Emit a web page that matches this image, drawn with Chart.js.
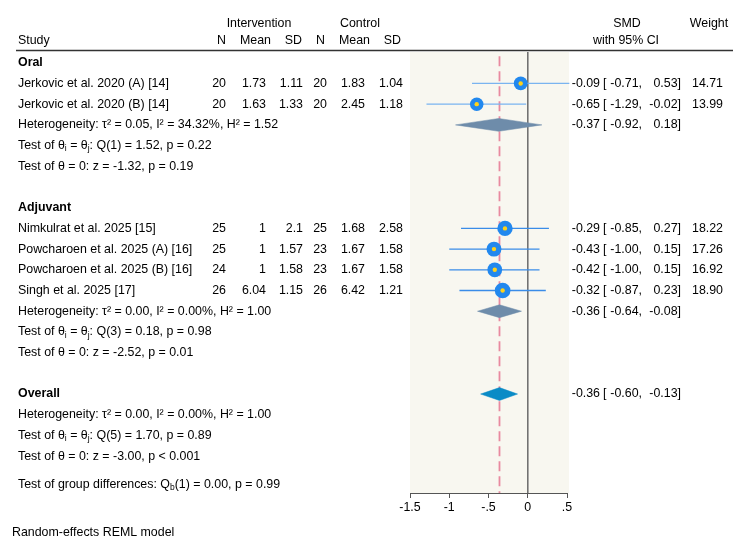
<!DOCTYPE html>
<html><head><meta charset="utf-8">
<script src="https://cdn.jsdelivr.net/npm/chart.js@4.4.1/dist/chart.umd.min.js"></script>
<style>html,body{margin:0;padding:0;background:#fff}#wrap{width:750px;height:548px;position:relative}</style>
</head><body><div id="wrap"><canvas id="c" width="750" height="548"></canvas></div>
<script>
// ---------- data ----------
const studies = ["Jerkovic et al. 2020 (A) [14]", "Jerkovic et al. 2020 (B) [14]", "Nimkulrat et al. 2025 [15]",
  "Powcharoen et al. 2025 (A) [16]", "Powcharoen et al. 2025 (B) [16]", "Singh et al. 2025 [17]"];
const studyGroup = [0, 0, 1, 1, 1, 1];
const nT = [20, 20, 25, 25, 24, 26];
const meanT = [1.73, 1.63, 1, 1, 1, 6.04];
const sdT = [1.11, 1.33, 2.1, 1.57, 1.58, 1.15];
const nC = [20, 20, 25, 23, 23, 26];
const meanC = [1.83, 2.45, 1.68, 1.67, 1.67, 6.42];
const sdC = [1.04, 1.18, 2.58, 1.58, 1.58, 1.21];
const smd = [-0.09, -0.65, -0.29, -0.43, -0.42, -0.32];
const ciLo = [-0.71, -1.29, -0.85, -1.00, -1.00, -0.87];
const ciHi = [0.53, -0.02, 0.27, 0.15, 0.15, 0.23];
const weight = [14.71, 13.99, 18.22, 17.26, 16.92, 18.90];

const groups = ["Oral", "Adjuvant", "Overall"];
const sumEst = [-0.37, -0.36, -0.36];
const sumLo = [-0.92, -0.64, -0.60];
const sumHi = [0.18, -0.08, -0.13];
const tau2 = [0.05, 0.00, 0.00];
const i2 = [34.32, 0.00, 0.00];
const h2 = [1.52, 1.00, 1.00];
const qDf = [1, 3, 5];
const qStat = [1.52, 0.18, 1.70];
const qP = ["= 0.22", "= 0.98", "= 0.89"];
const zStat = [-1.32, -2.52, -3.00];
const zP = ["= 0.19", "= 0.01", "< 0.001"];
const groupDiffQ = 0.00, groupDiffDf = 1, groupDiffP = 0.99;

const xTicks = [-1.5, -1, -0.5, 0, 0.5];
const xTickLabels = ["-1.5", "-1", "-.5", "0", ".5"];

// ---------- layout (row positions) ----------
const studyRows = [1, 2, 8, 9, 10, 11];
const headRows = [0, 7, 16];
const diamondRows = [3, 12, 16];
const hetRows = [3, 12, 17];
const qRows = [4, 13, 18];
const zRows = [5, 14, 19];
const groupDiffRow = 20.35;
const noteRow = 22.7;
const rowMin = -0.52, rowMax = 20.78;
const dH = 0.31;

const FONT = "'Liberation Sans', Arial, Helvetica, sans-serif";
const FS = 12.4;
Chart.defaults.font.family = FONT;
Chart.defaults.font.size = FS;
Chart.defaults.color = '#000';

const markerColor = '#2288ee';
const ciColors = ['#7ab4f0', '#3a8ce8'];
const diamondColors = ['#6e8caa', '#6e8caa', '#0a8bc6'];

const datasets = [];
// yellow centres (top)
datasets.push({
  data: smd.map((v, i) => ({x: v, y: studyRows[i]})),
  pointRadius: 2.2, pointBackgroundColor: '#ffd21a', pointBorderWidth: 0, showLine: false, clip: false
});
// blue markers sized by weight
datasets.push({
  data: smd.map((v, i) => ({x: v, y: studyRows[i]})),
  pointRadius: weight.map(w => 1.8 * Math.sqrt(w)), pointBackgroundColor: markerColor, pointBorderWidth: 0,
  showLine: false, clip: false
});
// diamonds
groups.forEach((g, k) => {
  const r = diamondRows[k];
  datasets.push({
    data: [{x: sumLo[k], y: r}, {x: sumEst[k], y: r - dH}, {x: sumHi[k], y: r}, {x: sumEst[k], y: r + dH}, {x: sumLo[k], y: r}],
    showLine: true, fill: 'shape', backgroundColor: diamondColors[k], borderColor: diamondColors[k],
    borderWidth: 0.5, pointRadius: 0, tension: 0, clip: false
  });
});
// CI lines
smd.forEach((v, i) => {
  datasets.push({
    data: [{x: ciLo[i], y: studyRows[i]}, {x: ciHi[i], y: studyRows[i]}],
    showLine: true, borderColor: ciColors[studyGroup[i]], borderWidth: 1.3, pointRadius: 0, clip: false
  });
});
// overall effect dashed line
datasets.push({
  data: [{x: sumEst[2], y: rowMin + 0.2}, {x: sumEst[2], y: rowMax}],
  showLine: true, borderColor: '#e88aa0', borderWidth: 1.8, borderDash: [10, 5], pointRadius: 0, clip: false
});
// zero line
datasets.push({
  data: [{x: 0, y: rowMin}, {x: 0, y: rowMax}],
  showLine: true, borderColor: '#707070', borderWidth: 1, pointRadius: 0, clip: false
});

function drawRich(ctx, parts, x, y) {
  parts.forEach(p => {
    if (p.sub) {
      ctx.font = '8.5px ' + FONT;
      ctx.fillText(p.t, x, y + 3.5);
    } else {
      ctx.font = FS + 'px ' + FONT;
      ctx.fillText(p.t, x, y);
    }
    x += ctx.measureText(p.t).width;
  });
  ctx.font = FS + 'px ' + FONT;
}

const bgPlugin = {
  id: 'bg',
  beforeDraw(chart) {
    const {ctx, chartArea: a} = chart;
    ctx.save();
    ctx.fillStyle = '#fff';
    ctx.fillRect(0, 0, chart.width, chart.height);
    ctx.fillStyle = '#f8f7f0';
    ctx.fillRect(a.left, a.top, a.right - a.left + 2, a.bottom - a.top);
    ctx.restore();
  }
};

const textPlugin = {
  id: 'texts',
  afterDraw(chart) {
    const ctx = chart.ctx;
    const ys = chart.scales.y;
    const Y = r => ys.getPixelForValue(r);
    ctx.save();
    ctx.fillStyle = '#000';
    ctx.textBaseline = 'middle';
    ctx.font = FS + 'px ' + FONT;
    const txt = (t, x, y, align) => { ctx.textAlign = align || 'left'; ctx.fillText(t, x, y); };

    // headers
    const h1 = Y(-1.87), h2y = Y(-1.05);
    txt('Intervention', 259, h1, 'center');
    txt('Control', 360, h1, 'center');
    txt('SMD', 627, h1, 'center');
    txt('Weight', 709, h1, 'center');
    txt('Study', 18, h2y);
    txt('N', 226, h2y, 'right');
    txt('Mean', 271, h2y, 'right');
    txt('SD', 302, h2y, 'right');
    txt('N', 325, h2y, 'right');
    txt('Mean', 370, h2y, 'right');
    txt('SD', 401, h2y, 'right');
    txt('with 95% CI', 626, h2y, 'center');
    ctx.strokeStyle = '#333';
    ctx.lineWidth = 1.3;
    ctx.beginPath(); ctx.moveTo(16, 50.5); ctx.lineTo(733, 50.5); ctx.stroke();

    const ciText = (est, lo, hi, y) => {
      txt(est.toFixed(2), 600, y, 'right');
      txt('[', 603, y, 'left');
      txt(lo.toFixed(2) + ',', 642, y, 'right');
      txt(hi.toFixed(2) + ']', 681, y, 'right');
    };

    // studies
    studies.forEach((s, i) => {
      const y = Y(studyRows[i]);
      txt(s, 18, y);
      txt(String(nT[i]), 226, y, 'right');
      txt(String(meanT[i]), 266, y, 'right');
      txt(String(sdT[i]), 303, y, 'right');
      txt(String(nC[i]), 327, y, 'right');
      txt(String(meanC[i]), 365, y, 'right');
      txt(String(sdC[i]), 403, y, 'right');
      ciText(smd[i], ciLo[i], ciHi[i], y);
      txt(weight[i].toFixed(2), 723, y, 'right');
    });

    // groups
    groups.forEach((g, k) => {
      ctx.font = 'bold ' + FS + 'px ' + FONT;
      txt(g, 18, Y(headRows[k]));
      ctx.font = FS + 'px ' + FONT;
      ciText(sumEst[k], sumLo[k], sumHi[k], Y(diamondRows[k]));
      txt('Heterogeneity: \u03c4\u00b2 = ' + tau2[k].toFixed(2) + ', I\u00b2 = ' + i2[k].toFixed(2) + '%, H\u00b2 = ' + h2[k].toFixed(2), 18, Y(hetRows[k]));
      ctx.textAlign = 'left';
      drawRich(ctx, [{t: 'Test of \u03b8'}, {t: 'i', sub: true}, {t: ' = \u03b8'}, {t: 'j', sub: true},
        {t: ': Q(' + qDf[k] + ') = ' + qStat[k].toFixed(2) + ', p ' + qP[k]}], 18, Y(qRows[k]));
      txt('Test of \u03b8 = 0: z = ' + zStat[k].toFixed(2) + ', p ' + zP[k], 18, Y(zRows[k]));
    });

    ctx.textAlign = 'left';
    drawRich(ctx, [{t: 'Test of group differences: Q'}, {t: 'b', sub: true},
      {t: '(' + groupDiffDf + ') = ' + groupDiffQ.toFixed(2) + ', p = ' + groupDiffP.toFixed(2)}], 18, Y(groupDiffRow));
    txt('Random-effects REML model', 12, Y(noteRow));
    ctx.restore();
  }
};

new Chart(document.getElementById('c'), {
  type: 'scatter',
  data: {datasets},
  plugins: [bgPlugin, textPlugin],
  options: {
    responsive: false,
    animation: false,
    events: [],
    layout: {padding: {left: 410, right: 183, top: 52, bottom: 25}},
    plugins: {legend: {display: false}, tooltip: {enabled: false}},
    scales: {
      x: {
        type: 'linear', min: -1.5, max: 0.5,
        afterBuildTicks: s => { s.ticks = xTicks.map(v => ({value: v})); },
        afterFit: s => { s.height = 30; },
        ticks: {callback: (v, i) => xTickLabels[i], color: '#000', padding: 2, maxRotation: 0, autoSkip: false, font: {size: FS}},
        grid: {display: true, drawOnChartArea: false, drawTicks: true, tickLength: 5, color: '#555'},
        border: {display: true, color: '#555', width: 1}
      },
      y: {type: 'linear', reverse: true, min: rowMin, max: rowMax, display: false}
    }
  }
});
</script>
</body></html>
